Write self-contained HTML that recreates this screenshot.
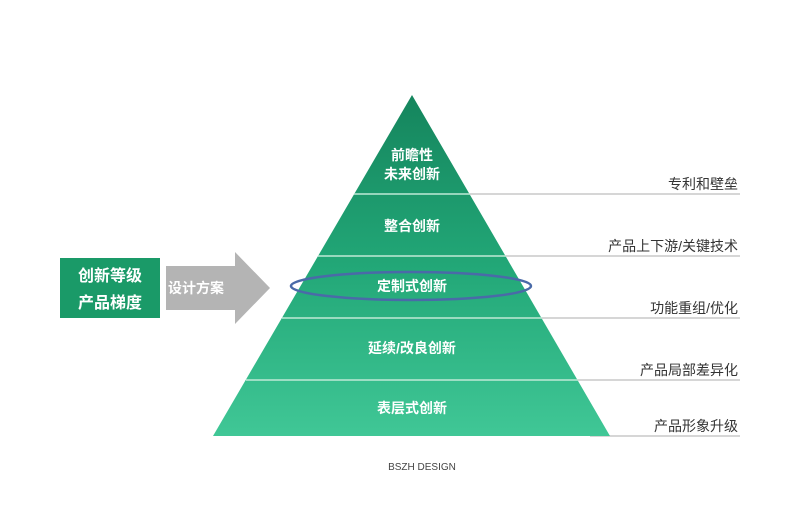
<!DOCTYPE html>
<html><head><meta charset="utf-8"><style>
body{margin:0;background:#fff}
</style></head><body>
<svg width="800" height="509" xmlns="http://www.w3.org/2000/svg" style="display:block;font-family:'Liberation Sans','Noto Sans CJK SC',sans-serif">
<defs>
<linearGradient id="g" x1="0" y1="0" x2="0" y2="1">
<stop offset="0" stop-color="#15855d"/><stop offset="0.5" stop-color="#22a777"/><stop offset="1" stop-color="#40c796"/>
</linearGradient>
</defs>
<g stroke="#c8c8c8" stroke-width="1.5">
<line x1="470" y1="194" x2="740" y2="194"/>
<line x1="500" y1="256" x2="740" y2="256"/>
<line x1="530" y1="318" x2="740" y2="318"/>
<line x1="560" y1="380" x2="740" y2="380"/>
<line x1="590" y1="436" x2="740" y2="436"/>
</g>
<polygon points="412,95 610,436 213,436" fill="url(#g)"/>
<g stroke="#bfe9d6" stroke-width="1.5">
<line x1="354" y1="194" x2="470" y2="194"/>
<line x1="318" y1="256" x2="506" y2="256"/>
<line x1="282" y1="318" x2="542" y2="318"/>
<line x1="246" y1="380" x2="578" y2="380"/>
</g>
<ellipse cx="411" cy="286" rx="120" ry="14" fill="none" stroke="#4a6aa8" stroke-width="2.5"/>
<g fill="#fff" font-size="14" font-weight="bold" text-anchor="middle">
<text x="412" y="160">前瞻性</text>
<text x="412" y="179">未来创新</text>
<text x="412" y="231">整合创新</text>
<text x="412" y="291">定制式创新</text>
<text x="412" y="353">延续/改良创新</text>
<text x="412" y="413">表层式创新</text>
</g>
<g fill="#333" font-size="14" text-anchor="end">
<text x="738" y="189">专利和壁垒</text>
<text x="738" y="251">产品上下游/关键技术</text>
<text x="738" y="313">功能重组/优化</text>
<text x="738" y="375">产品局部差异化</text>
<text x="738" y="431">产品形象升级</text>
</g>
<rect x="60" y="258" width="100" height="60" fill="#1a9a68"/>
<g fill="#fff" font-size="16" font-weight="bold" text-anchor="middle">
<text x="110" y="281">创新等级</text>
<text x="110" y="308">产品梯度</text>
</g>
<polygon points="166,266 235,266 235,252 270,288 235,324 235,310 166,310" fill="#b4b4b4"/>
<text x="168" y="293" fill="#fff" font-size="14" font-weight="bold">设计方案</text>
<text x="422" y="470" fill="#444" font-size="10" text-anchor="middle">BSZH DESIGN</text>
</svg>
</body></html>
